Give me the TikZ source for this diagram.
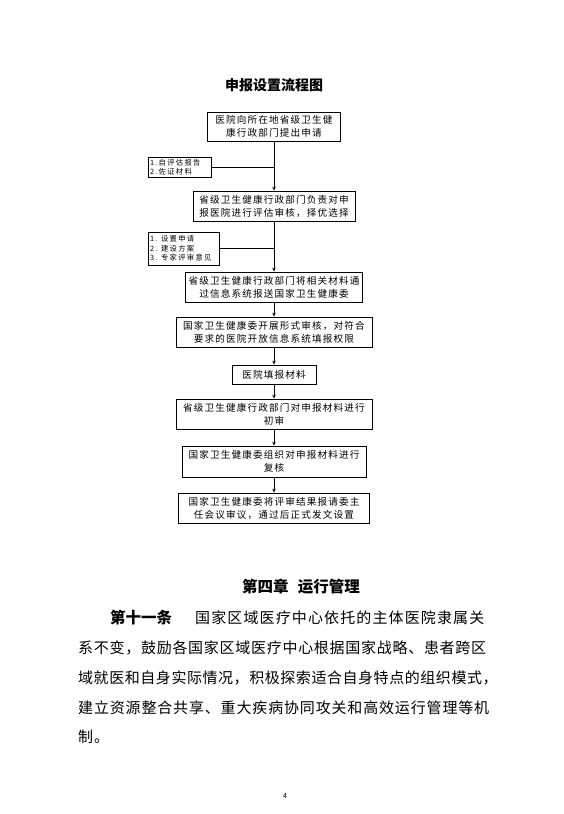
\documentclass[tikz,border=0pt]{standalone}
\usepackage{fontspec}
\setmainfont{Noto Sans CJK SC}
\newfontfamily\boxfont[LetterSpace=12]{Noto Sans CJK SC}
\newfontfamily\notefont[LetterSpace=18]{Noto Sans CJK SC}
\newfontfamily\bodyfont{Noto Sans CJK SC}
\usetikzlibrary{arrows.meta}

\begin{document}
\begin{tikzpicture}[
      x=1pt, y=-1pt,
      box/.style={draw, line width=0.8pt, align=center, inner sep=0pt,
          font=\boxfont\fontsize{9.6}{13}\selectfont},
      note/.style={draw, line width=0.8pt, align=left, inner sep=2pt,
          font=\notefont\fontsize{7.3}{9.4}\selectfont},
      arr/.style={-{Stealth[length=4pt, width=3.5pt]}, line width=0.7pt},
      link/.style={line width=0.7pt},
      body/.style={anchor=west, inner sep=0pt, font=\bodyfont\fontsize{15}{18}\selectfont},
    ]
    \useasboundingbox (0,0) rectangle (564,814);

    % Title
    \node[font=\fontsize{14}{16}\selectfont\bfseries] (title) at (274,85) {申报设置流程图};

    % Main steps
    \node[box, minimum width=133, minimum height=29] (b1) at (274,126.5)
      {医院向所在地省级卫生健\\康行政部门提出申请};
    \node[box, minimum width=162, minimum height=30] (b2) at (274,206)
      {省级卫生健康行政部门负责对申\\报医院进行评估审核，择优选择};
    \node[box, minimum width=177, minimum height=30] (b3) at (274,287)
      {省级卫生健康行政部门将相关材料通\\过信息系统报送国家卫生健康委};
    \node[box, minimum width=196, minimum height=30] (b4) at (274,332)
      {国家卫生健康委开展形式审核，对符合\\要求的医院开放信息系统填报权限};
    \node[box, minimum width=84, minimum height=19] (b5) at (274,374.5)
      {医院填报材料};
    \node[box, minimum width=196, minimum height=30] (b6) at (274,414)
      {省级卫生健康行政部门对申报材料进行\\初审};
    \node[box, minimum width=184, minimum height=31] (b7) at (274,461.5)
      {国家卫生健康委组织对申报材料进行\\复核};
    \node[box, minimum width=191, minimum height=30] (b8) at (274,508)
      {国家卫生健康委将评审结果报请委主\\任会议审议，通过后正式发文设置};

    % Side notes
    \node[note, text width=59, minimum height=20] (s1) at (179.5,167)
      {1.自评估报告\\2.佐证材料};
    \node[note, text width=67, minimum height=33] (s2) at (183.5,248.5)
      {1. 设置申请\\2. 建设方案\\3. 专家评审意见};

    % Arrows
    \foreach \a/\b in {b1/b2, b2/b3, b3/b4, b4/b5, b5/b6, b6/b7, b7/b8} {
        \draw[arr] (\a.south) -- (\b.north);
      }
    \draw[link] (s1.east) -- (s1.east -| b1.south);
    \draw[link] (s2.east) -- (s2.east -| b2.south);

    % Chapter text
    \node[font=\fontsize{15.5}{18}\selectfont\bfseries] (chap) at (301,587)
      {第四章\hspace{0.6em}运行管理};
    \node[body, font=\fontsize{15.5}{18}\selectfont\bfseries] (art) at (110,618) {第十一条};
    \node[body] (l1) at (195,618) {\addfontfeature{LetterSpace=7.5}国家区域医疗中心依托的主体医院隶属关};
    \node[body] (l2) at (78,648) {\addfontfeature{LetterSpace=4.8}系不变，鼓励各国家区域医疗中心根据国家战略、患者跨区};
    \node[body] (l3) at (78,678) {\addfontfeature{LetterSpace=3.7}域就医和自身实际情况，积极探索适合自身特点的组织模式，};
    \node[body] (l4) at (78,708) {\addfontfeature{LetterSpace=5.6}建立资源整合共享、重大疾病协同攻关和高效运行管理等机};
    \node[body] (l5) at (78,737) {\addfontfeature{LetterSpace=5.6}制。};

    % Page number
    \node[font=\fontsize{7}{8}\selectfont] (pnum) at (285,796) {4};
  \end{tikzpicture}
\end{document}
